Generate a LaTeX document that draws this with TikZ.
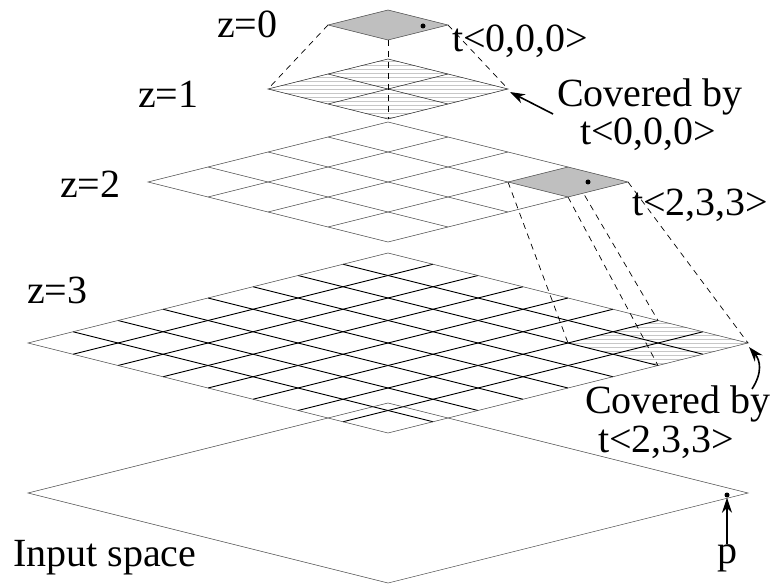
\documentclass[tikz,border=0pt]{standalone}
\usepackage{fontspec}
\setmainfont{Liberation Serif}
\usetikzlibrary{arrows.meta}
\begin{document}
\begin{tikzpicture}[x=1pt,y=-1pt,
  lbl/.style={font=\fontsize{40}{44}\selectfont, inner sep=0pt, anchor=base west},
  thinline/.style={draw=black!70, line width=0.5pt},
  thickline/.style={draw=black, line width=0.9pt},
  dashline/.style={draw=black, dash pattern=on 6pt off 5pt, line width=0.7pt},
  hatchline/.style={draw=black!22, line width=0.45pt},
  cellfill/.style={fill=black!25},
  pointer/.style={-{Stealth[length=15pt,width=10pt]}, line width=1.6pt},
  dotnode/.style={circle, fill=black, inner sep=0pt, minimum size=5pt},
]
\useasboundingbox (0,0) rectangle (775,585);

% ---------------- z = 3 : 8x8 grid, left vertex (28,343), step (45,11.25)
\begin{scope}
  \clip (568,343) -- (658,320.5) -- (748,343) -- (658,365.5) -- cycle;
  \foreach \k in {0,...,12} \draw[hatchline] (560,{319+\k*4}) -- (760,{319+\k*4});
\end{scope}
\foreach \i in {1,...,7} {
  \draw[thickline] ({28+\i*45},{343-\i*11.25}) -- ({28+(\i+8)*45},{343+(8-\i)*11.25});
  \draw[thickline] ({28+\i*45},{343+\i*11.25}) -- ({28+(8+\i)*45},{343+(\i-8)*11.25});
}
\draw[thinline] (28,343) -- (388,253) -- (748,343) -- (388,433) -- cycle;

% ---------------- input space
\draw[thinline] (28,493) -- (388,403) -- (748,493) -- (388,583) -- cycle;

% ---------------- dashed projections z=2 -> z=3
\draw[dashline] (508,182) -- (568,343);
\draw[dashline] (568,167) -- (658,320.5);
\draw[dashline] (568,197) -- (658,365.5);
\draw[dashline] (628,182) -- (748,343);

% ---------------- z = 2 : 4x4 grid, left vertex (148,182), step (60,15)
\fill[cellfill] (508,182) -- (568,167) -- (628,182) -- (568,197) -- cycle;
\foreach \i in {1,...,3} {
  \draw[thinline] ({148+\i*60},{182-\i*15}) -- ({148+(\i+4)*60},{182+(4-\i)*15});
  \draw[thinline] ({148+\i*60},{182+\i*15}) -- ({148+(4+\i)*60},{182+(\i-4)*15});
}
\draw[thinline] (148,182) -- (388,122) -- (628,182) -- (388,242) -- cycle;

% ---------------- z = 1 : 2x2 grid, left vertex (268,89), step (60,15)
\begin{scope}
  \clip (268,89) -- (388,59) -- (508,89) -- (388,119) -- cycle;
  \foreach \k in {0,...,16} \draw[hatchline] (260,{57+\k*4}) -- (520,{57+\k*4});
\end{scope}
\draw[thinline, draw=black!85] (328,74) -- (448,104);
\draw[thinline, draw=black!85] (328,104) -- (448,74);
\draw[thinline, draw=black!85] (268,89) -- (388,59) -- (508,89) -- (388,119) -- cycle;

% ---------------- dashed projections z=0 -> z=1
\draw[dashline] (328,25) -- (268,89);
\draw[dashline] (448,25) -- (508,89);
\draw[dashline] (388,40) -- (388,119);

% ---------------- z = 0 : single cell
\filldraw[cellfill, thinline] (328,25) -- (388,10) -- (448,25) -- (388,40) -- cycle;

% ---------------- points
\node[dotnode] (dot0) at (423,26) {};
\node[dotnode] (dot2) at (588,182) {};
\node[dotnode] (dotp) at (727,495) {};

% ---------------- labels
\node[lbl] (lz0) at (217,38) {z=0};
\node[lbl] (lz1) at (138,108) {z=1};
\node[lbl] (lz2) at (60,197) {z=2};
\node[lbl] (lz3) at (27,303) {z=3};
\node[lbl] (lt0) at (452,52) {t<0,0,0>};
\node[lbl] (lcov1) at (557,107) {Covered by};
\node[lbl] (lcov1t) at (580,145) {t<0,0,0>};
\node[lbl] (lt2) at (632,215) {t<2,3,3>};
\node[lbl] (lcov2) at (585,413) {Covered by};
\node[lbl] (lcov2t) at (598,452) {t<2,3,3>};
\node[lbl] (lin) at (13,566) {Input space};
\node[lbl, anchor=base] (lp) at (727,563) {p};

% ---------------- arrows
\coordinate (a1tail) at (553,114);
\coordinate (a1head) at (510,92);
\draw[pointer] (a1tail) -- (a1head);
\coordinate (a2tail) at (752,389);
\coordinate (a2head) at (749,347);
\draw[pointer] (a2tail) .. controls (763,372) and (760,360) .. (a2head);
\coordinate (a3tail) at (727,544);
\draw[pointer] (a3tail) -- (dotp.south);
\end{tikzpicture}
\end{document}
